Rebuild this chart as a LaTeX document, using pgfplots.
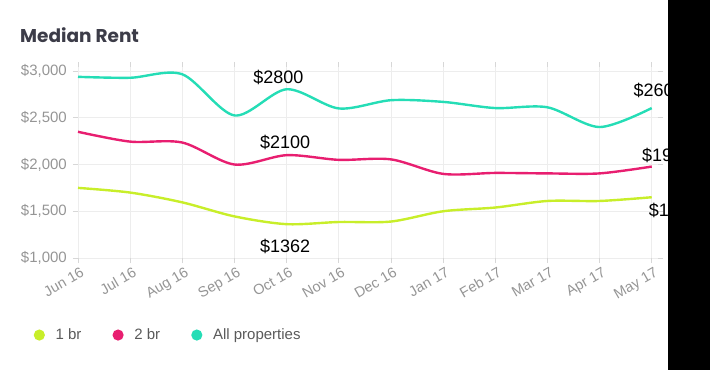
\documentclass[border=0pt]{standalone}
\usepackage{pgfplots}
\pgfplotsset{compat=1.18}
\usepackage{fontspec}
\setmainfont{Liberation Sans}
\newfontfamily\titlefont{Poppins}
\definecolor{cgreen}{HTML}{C8EE2A}
\definecolor{cpink}{HTML}{E81E70}
\definecolor{cteal}{HTML}{25DDB6}
\definecolor{tickgray}{HTML}{959595}
\definecolor{gridgray}{HTML}{EDEDED}
\definecolor{titlegray}{HTML}{3C3C48}
\definecolor{leggray}{HTML}{5A5A5A}
\begin{document}
\begin{tikzpicture}[x=1pt,y=1pt]
\path[use as bounding box] (0,0) rectangle (710,370);
\node[anchor=west,font=\titlefont\bfseries\fontsize{18.5}{18.5}\selectfont,text=titlegray,inner sep=0pt] at (20,335) {Median Rent};
\begin{axis}[
  at={(78pt,112pt)}, anchor=south west,
  scale only axis, width=580pt, height=190.7pt,
  xmin=0, xmax=11.12, ymin=1000, ymax=3040,
  clip=false,
  axis line style={draw=none},
  grid=major, grid style={gridgray, line width=0.8pt},
  xtick={0,...,11},
  xticklabels={Jun 16,Jul 16,Aug 16,Sep 16,Oct 16,Nov 16,Dec 16,Jan 17,Feb 17,Mar 17,Apr 17,May 17},
  xticklabel style={rotate=30, anchor=north east, text=tickgray, font=\fontsize{14.5}{14.5}\selectfont, inner sep=1pt, xshift=1pt, yshift=-3pt},
  ytick={1000,1500,2000,2500,3000},
  yticklabels={{\$1,000},{\$1,500},{\$2,000},{\$2,500},{\$3,000}},
  yticklabel style={text=tickgray, font=\fontsize{15}{15}\selectfont, inner sep=0pt, xshift=-6pt},
  tick align=outside, major tick length=5pt,
  tick style={gridgray!80!gray, line width=0.8pt},
  legend columns=3,
  legend style={at={(-0.082,-0.404)}, anchor=west, draw=none, fill=none,
    font=\fontsize{15}{15}\selectfont, text=leggray,
    /tikz/every even column/.append style={column sep=29pt}},
  legend image code/.code={\fill[#1] (0pt,0pt) circle (4.3pt); \path (-4.5pt,0pt) (13pt,0pt);},
  every axis plot/.append style={line width=2.4pt, smooth, no markers},
]
\addplot[color=cgreen] coordinates {(0,1750) (1,1700) (2,1595) (3,1445) (4,1362) (5,1385) (6,1390) (7,1500) (8,1540) (9,1610) (10,1610) (11,1650)};
\addlegendentry{1 br}
\addplot[color=cpink] coordinates {(0,2350) (1,2245) (2,2235) (3,2000) (4,2100) (5,2050) (6,2055) (7,1900) (8,1910) (9,1905) (10,1905) (11,1978)};
\addlegendentry{2 br}
\addplot[color=cteal] coordinates {(0,2938) (1,2928) (2,2965) (3,2525) (4,2805) (5,2600) (6,2688) (7,2670) (8,2604) (9,2612) (10,2401) (11,2604)};
\addlegendentry{All properties}
\node[font=\fontsize{18}{18}\selectfont] at (axis cs:3.84,2936) {\$2800};
\node[font=\fontsize{18}{18}\selectfont] at (axis cs:3.97,2241) {\$2100};
\node[font=\fontsize{18}{18}\selectfont] at (axis cs:3.97,1128) {\$1362};
\node[font=\fontsize{18}{18}\selectfont,anchor=west,inner sep=0pt] at (axis cs:10.65,2797) {\$2600};
\node[font=\fontsize{18}{18}\selectfont,anchor=west,inner sep=0pt] at (axis cs:10.81,2102) {\$1978};
\node[font=\fontsize{18}{18}\selectfont,anchor=west,inner sep=0pt] at (axis cs:10.94,1513) {\$1650};
\end{axis}
\fill[black] (668,0) rectangle (710,370);
\end{tikzpicture}
\end{document}
